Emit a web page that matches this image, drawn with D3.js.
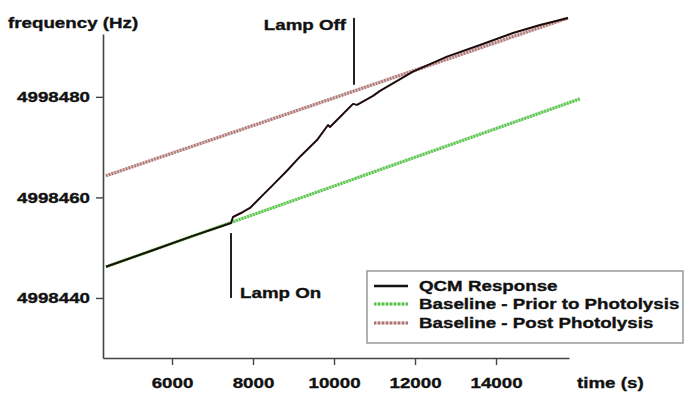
<!DOCTYPE html>
<html lang="en">
<head>
    <meta charset="UTF-8">
    <title>QCM Response</title>
    <script src="https://d3js.org/d3.v7.min.js"></script>
    <style>
        body, html {
            margin: 0;
            padding: 0;
            background: #fff;
            overflow: hidden;
        }
        svg text {
            font-family: "Liberation Sans", Arial, sans-serif;
            font-weight: bold;
            font-size: 15px;
            fill: #111;
            stroke: #111;
            stroke-width: 0.35px;
        }
    </style>
</head>
<body>
    <div id="chart"></div>

    <script>
        // QCM response (time in s, frequency in Hz)
        const qcmTime = [4370, 5457, 6500, 7457, 7506, 7753, 7926, 8247, 8494, 8850, 9160, 9580, 9852, 9901,
                         10148, 10469, 10568, 10963, 11136, 11951, 12790, 13605, 14420, 15086, 15778];
        const qcmFreq = [4998446.2, 4998449.3, 4998452.3, 4998454.9, 4998456.1, 4998457.1, 4998457.9,
                         4998460.5, 4998462.5, 4998465.4, 4998468.1, 4998471.4, 4998474.4, 4998474.0, 4998476.0,
                         4998478.6, 4998478.4, 4998480.2, 4998481.2, 4998485.0, 4998488.0, 4998490.3,
                         4998492.7, 4998494.3, 4998495.7];

        // baselines (straight fits)
        const priorTime = [4370, 16074];
        const priorFreq = [4998446.2, 4998479.6];
        const postTime = [4370, 15778];
        const postFreq = [4998464.3, 4998495.7];

        // lamp markers
        const lampOnTime = 7457, lampOnFreq = [4998440, 4998452.9];
        const lampOffTime = 10494, lampOffFreq = [4998482.4, 4998495.7];

        const xTicks = [6000, 8000, 10000, 12000, 14000];
        const yTicks = [4998440, 4998460, 4998480];
        const seriesNames = ["QCM Response", "Baseline - Prior to Photolysis", "Baseline - Post Photolysis"];

        const width = 684, height = 394;
        const margin = {top: 34, right: 115, bottom: 36, left: 103};
        const SX = 1.25; // the source lettering is stretched sideways

        const svg = d3.select("#chart").append("svg")
            .attr("width", width)
            .attr("height", height);

        const x = d3.scaleLinear().domain([4296, 15802]).range([margin.left, width - margin.right]);
        const y = d3.scaleLinear().domain([4998428.06, 4998492.5]).range([height - margin.bottom, margin.top]);

        function label(txt, px, py, anchor) {
            svg.append("text")
                .attr("transform", `translate(${px},${py}) scale(${SX},1)`)
                .attr("text-anchor", anchor || "start")
                .text(txt);
        }

        const line = d3.line().x(d => x(d[0])).y(d => y(d[1]));

        function hatched(g, data, light, dark) {
            g.append("path").datum(data).attr("d", line)
                .attr("fill", "none").attr("stroke", light).attr("stroke-width", 3.2);
            g.append("path").datum(data).attr("d", line)
                .attr("fill", "none").attr("stroke", dark).attr("stroke-width", 3.2)
                .attr("stroke-dasharray", "1.5,1.5");
        }

        const green = ["#a9e3a0", "#5fc255"];
        const pink = ["#dcc0c0", "#ad7676"];

        const plot = svg.append("g");
        hatched(plot, d3.zip(postTime, postFreq), pink[0], pink[1]);
        hatched(plot, d3.zip(priorTime, priorFreq), green[0], green[1]);
        plot.append("path").datum(d3.zip(qcmTime, qcmFreq))
            .attr("d", line)
            .attr("fill", "none").attr("stroke", "#1e0c0c").attr("stroke-width", 2)
            .attr("stroke-linejoin", "round");

        // lamp markers
        svg.append("line")
            .attr("x1", x(lampOnTime)).attr("x2", x(lampOnTime))
            .attr("y1", y(lampOnFreq[0])).attr("y2", y(lampOnFreq[1]))
            .attr("stroke", "#222").attr("stroke-width", 2);
        svg.append("line")
            .attr("x1", x(lampOffTime)).attr("x2", x(lampOffTime))
            .attr("y1", y(lampOffFreq[0])).attr("y2", y(lampOffFreq[1]))
            .attr("stroke", "#222").attr("stroke-width", 2);
        label("Lamp On", x(lampOnTime) + 9, y(lampOnFreq[0]), "start");
        label("Lamp Off", x(lampOffTime) - 8, y(lampOffFreq[1]) + 12, "end");

        // axes
        const xAxis = svg.append("g")
            .attr("transform", `translate(0,${height - margin.bottom})`)
            .call(d3.axisBottom(x).tickValues(xTicks).tickSize(7).tickSizeOuter(0).tickFormat(d3.format("d")));
        const yAxis = svg.append("g")
            .attr("transform", `translate(${margin.left},0)`)
            .call(d3.axisLeft(y).tickValues(yTicks).tickSize(7).tickSizeOuter(0).tickFormat(d3.format("d")));

        [xAxis, yAxis].forEach(a => {
            a.select(".domain").attr("stroke", "#444").attr("stroke-width", 1.6);
            a.selectAll(".tick line").attr("stroke", "#444").attr("stroke-width", 1.4);
            a.attr("font-family", null).attr("font-size", null);
        });
        xAxis.selectAll(".tick text")
            .attr("y", 0).attr("dy", null).attr("fill", null)
            .attr("transform", `translate(0,30) scale(${SX},1)`);
        yAxis.selectAll(".tick text")
            .attr("x", 0).attr("dy", null).attr("fill", null)
            .attr("transform", `translate(-13,5) scale(${SX},1)`);

        label("frequency (Hz)", 8, 28, "start");
        label("time (s)", 577, 388, "start");

        // legend
        const lg = svg.append("g").attr("transform", "translate(367,271)");
        lg.append("rect")
            .attr("width", 316).attr("height", 72)
            .attr("fill", "#fff").attr("stroke", "#999").attr("stroke-width", 1.5);
        const rows = [20, 38, 57];
        seriesNames.forEach((name, i) => {
            const ly = rows[i] - 5;
            if (i === 0) {
                lg.append("line").attr("x1", 7).attr("x2", 41).attr("y1", ly).attr("y2", ly)
                    .attr("stroke", "#111").attr("stroke-width", 2.4);
            } else {
                const c = i === 1 ? green : pink;
                lg.append("line").attr("x1", 7).attr("x2", 41).attr("y1", ly).attr("y2", ly)
                    .attr("stroke", c[0]).attr("stroke-width", 3);
                lg.append("line").attr("x1", 7).attr("x2", 41).attr("y1", ly).attr("y2", ly)
                    .attr("stroke", c[1]).attr("stroke-width", 3).attr("stroke-dasharray", "2,2");
            }
            lg.append("text")
                .attr("transform", `translate(52,${rows[i]}) scale(${SX},1)`)
                .text(name);
        });
    </script>
</body>
</html>
